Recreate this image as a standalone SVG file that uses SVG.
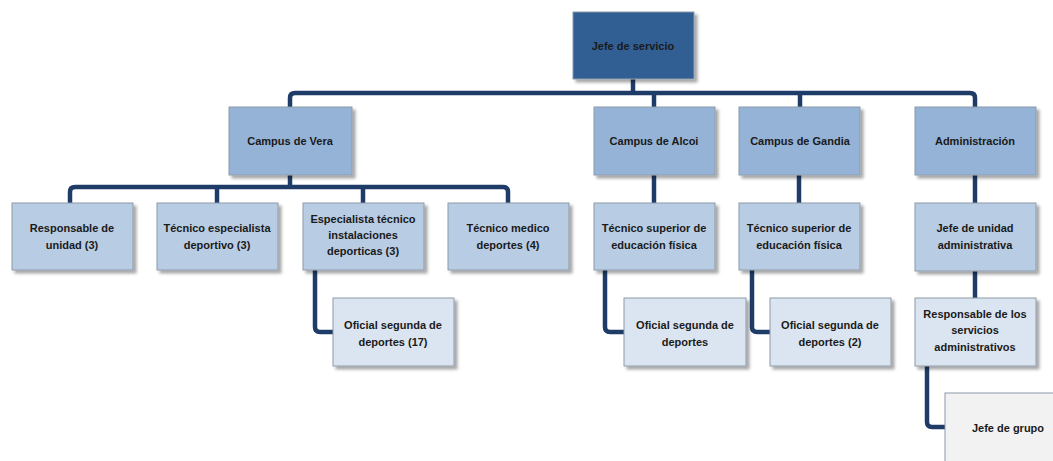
<svg xmlns="http://www.w3.org/2000/svg" width="1053" height="461" viewBox="0 0 1053 461">
<style>
.n{stroke:#8e9aa8;stroke-width:1;filter:url(#sh)}
.l0{fill:#335f93}
.l1{fill:#95b3d7}
.l2{fill:#b8cce4}
.l3{fill:#dbe5f1}
.l4{fill:#f2f2f2}
text{font-family:"Liberation Sans",Arial,sans-serif;font-size:11px;font-weight:bold;fill:#1a1a1a;text-anchor:middle}
.c{fill:none;stroke:#1f3c68;stroke-width:4.5;stroke-linejoin:round;stroke-linecap:butt}
</style>
<defs>
<filter id="sh" x="-10%" y="-10%" width="130%" height="130%">
<feDropShadow dx="3" dy="3" stdDeviation="1.5" flood-color="#000" flood-opacity="0.35"/>
</filter>
</defs>
<rect width="1053" height="461" fill="#fff"/>
<g id="connectors">
<path class="c" d="M633 79V93"/>
<path class="c" d="M290 107V98Q290 93 295 93H970Q975 93 975 98V107"/>
<path class="c" d="M654 93V107"/>
<path class="c" d="M800 93V107"/>
<path class="c" d="M290 175V187"/>
<path class="c" d="M70 203V192Q70 187 75 187H503Q508 187 508 192V203"/>
<path class="c" d="M217 187V203"/>
<path class="c" d="M363 187V203"/>
<path class="c" d="M654 175V203"/>
<path class="c" d="M799 175V203"/>
<path class="c" d="M975 175V203"/>
<path class="c" d="M975 271V298"/>
<path class="c" d="M315 270V327Q315 332 320 332H333"/>
<path class="c" d="M605 270V327Q605 332 610 332H624"/>
<path class="c" d="M752 270V327Q752 332 757 332H770"/>
<path class="c" d="M927 366V422Q927 427 932 427H945"/>
</g>
<g id="jefe-servicio"><rect class="n l0" x="573" y="12" width="121" height="67"/><text x="633" y="50">Jefe de servicio</text></g>
<g id="campus-vera"><rect class="n l1" x="229" y="107" width="123" height="68"/><text x="290" y="145">Campus de Vera</text></g>
<g id="campus-alcoi"><rect class="n l1" x="594" y="107" width="121" height="68"/><text x="654" y="145">Campus de Alcoi</text></g>
<g id="campus-gandia"><rect class="n l1" x="739" y="107" width="121" height="68"/><text x="800" y="145">Campus de Gandia</text></g>
<g id="administracion"><rect class="n l1" x="915" y="107" width="121" height="68"/><text x="975" y="145">Administración</text></g>
<g id="responsable-unidad"><rect class="n l2" x="12" y="203" width="121" height="67"/><text x="72" y="232">Responsable de</text><text x="72" y="249">unidad (3)</text></g>
<g id="tecnico-especialista"><rect class="n l2" x="157" y="203" width="121" height="67"/><text x="217" y="232">Técnico especialista</text><text x="217" y="249">deportivo (3)</text></g>
<g id="especialista-tecnico"><rect class="n l2" x="303" y="203" width="121" height="67"/><text x="363" y="223">Especialista técnico</text><text x="363" y="239">instalaciones</text><text x="363" y="255">deporticas (3)</text></g>
<g id="tecnico-medico"><rect class="n l2" x="448" y="203" width="121" height="67"/><text x="508" y="232">Técnico medico</text><text x="508" y="249">deportes (4)</text></g>
<g id="tecnico-superior-alcoi"><rect class="n l2" x="594" y="203" width="121" height="67"/><text x="654" y="232">Técnico superior de</text><text x="654" y="249">educación física</text></g>
<g id="tecnico-superior-gandia"><rect class="n l2" x="739" y="203" width="121" height="67"/><text x="799" y="232">Técnico superior de</text><text x="799" y="249">educación física</text></g>
<g id="jefe-unidad-admin"><rect class="n l2" x="915" y="203" width="121" height="68"/><text x="975" y="232">Jefe de unidad</text><text x="975" y="249">administrativa</text></g>
<g id="oficial-vera"><rect class="n l3" x="333" y="298" width="121" height="68"/><text x="393" y="329">Oficial segunda de</text><text x="393" y="346">deportes (17)</text></g>
<g id="oficial-alcoi"><rect class="n l3" x="624" y="298" width="122" height="68"/><text x="685" y="329">Oficial segunda de</text><text x="685" y="346">deportes</text></g>
<g id="oficial-gandia"><rect class="n l3" x="770" y="298" width="121" height="68"/><text x="830" y="329">Oficial segunda de</text><text x="830" y="346">deportes (2)</text></g>
<g id="responsable-servicios"><rect class="n l3" x="915" y="298" width="121" height="68"/><text x="975" y="318">Responsable de los</text><text x="975" y="334">servicios</text><text x="975" y="351">administrativos</text></g>
<g id="jefe-grupo"><rect class="n l4" x="945" y="393" width="125" height="80"/><text x="1008" y="432">Jefe de grupo</text></g>
</svg>
